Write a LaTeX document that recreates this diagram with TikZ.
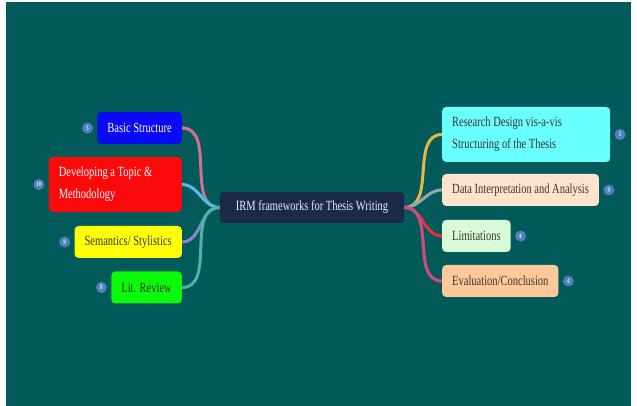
\documentclass[tikz,border=0pt]{standalone}
\usepackage{fontspec}
\setmainfont{Liberation Serif}[FakeStretch=0.75]
\usetikzlibrary{positioning}

\definecolor{bgteal}{HTML}{025A5A}
\definecolor{rootnavy}{HTML}{1C2A48}
\definecolor{badgeblue}{HTML}{4F80C0}
\definecolor{boxblue}{HTML}{0A0AF5}
\definecolor{boxred}{HTML}{FA0A0A}
\definecolor{boxyellow}{HTML}{FFFF0A}
\definecolor{boxgreen}{HTML}{0AFA0A}
\definecolor{boxcyan}{HTML}{6AFFFF}
\definecolor{boxpeach}{HTML}{FDE3CD}
\definecolor{boxmint}{HTML}{D8FAD6}
\definecolor{boxorange}{HTML}{FDC89A}
\definecolor{darktext}{HTML}{3A3530}

\tikzset{
  topic/.style={rounded corners=4pt, inner xsep=10pt, minimum height=32pt,
    font=\fontsize{14}{21.7}\selectfont},
  badge/.style={circle, fill=badgeblue, text=white!85!badgeblue, inner sep=0pt,
    minimum size=11pt, font=\fontsize{7}{7}\selectfont\bfseries},
  branch/.style={line width=3pt},
}

\begin{document}
\begin{tikzpicture}[x=1pt,y=1pt]
\def\lx{182}
\def\rx{442}
\useasboundingbox (0,0) rectangle (637,406);
\fill[bgteal] (6,0) rectangle (631,404);

\node[topic, fill=rootnavy, text=white!92!blue, inner xsep=16pt, minimum height=31pt] (irm) at (312,198.5) {IRM frameworks for Thesis Writing};

% left side
\node[topic, fill=boxblue, text=white, anchor=east] (basic) at (\lx,278) {Basic Structure};
\node[topic, fill=boxred, text=white, anchor=east, text width=113pt, align=flush left, minimum height=55pt] (topic) at (\lx,221.5) {Developing a Topic \&\\Methodology};
\node[topic, fill=boxyellow, text=darktext, anchor=east] (style) at (\lx,164) {Semantics/ Stylistics};
\node[topic, fill=boxgreen, text=darktext, anchor=east] (review) at (\lx,118.5) {Lit. Review};

\node[badge, left=4pt of basic] (nbasic) {3};
\node[badge, left=4pt of topic] (ntopic) {10};
\node[badge, left=4pt of style] (nstyle) {9};
\node[badge, left=4pt of review] (nreview) {8};

% right side
\node[topic, fill=boxcyan, text=darktext, anchor=west, text width=148pt, align=flush left, minimum height=55pt] (design) at (\rx,271.5) {Research Design vis-a-vis\\Structuring of the Thesis};
\node[topic, fill=boxpeach, text=darktext, anchor=west] (data) at (\rx,216) {Data Interpretation and Analysis};
\node[topic, fill=boxmint, text=darktext, anchor=west] (limit) at (\rx,170) {Limitations};
\node[topic, fill=boxorange, text=darktext, anchor=west] (eval) at (\rx,125) {Evaluation/Conclusion};

\node[badge, right=4pt of design] (ndesign) {5};
\node[badge, right=4pt of data] (ndata) {9};
\node[badge, right=4pt of limit] (nlimit) {4};
\node[badge, right=4pt of eval] (neval) {4};

\draw[branch, color={rgb,255:red,214;green,110;blue,150}] (irm.west) to[out=180,in=0] (basic.east);
\draw[branch, color={rgb,255:red,76;green,192;blue,230}] (irm.west) to[out=180,in=0] (topic.east);
\draw[branch, color={rgb,255:red,140;green,134;blue,200}] (irm.west) to[out=180,in=0] (style.east);
\draw[branch, color={rgb,255:red,78;green,182;blue,160}] (irm.west) to[out=180,in=0] (review.east);

\draw[branch, color={rgb,255:red,232;green,184;blue,64}] (irm.east) to[out=0,in=180] (design.west);
\draw[branch, color={rgb,255:red,144;green,168;blue,176}] (irm.east) to[out=0,in=180] (data.west);
\draw[branch, color={rgb,255:red,232;green,48;blue,64}] (irm.east) to[out=0,in=180] (limit.west);
\draw[branch, color={rgb,255:red,214;green,72;blue,128}] (irm.east) to[out=0,in=180] (eval.west);
\end{tikzpicture}
\end{document}
